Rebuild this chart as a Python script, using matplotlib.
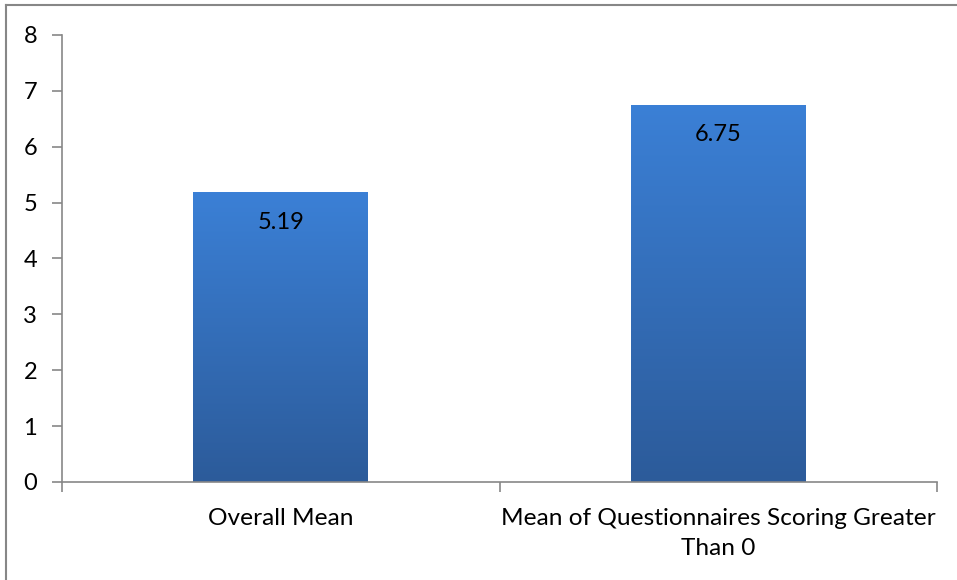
import matplotlib
matplotlib.use('Agg')
import matplotlib.pyplot as plt
import numpy as np
from matplotlib.colors import LinearSegmentedColormap

categories = ['Overall Mean', 'Mean of Questionnaires Scoring Greater\nThan 0']
values = [5.19, 6.75]
labels = ['5.19', '6.75']

plt.rcParams['font.family'] = ['Lato', 'DejaVu Sans']

fig = plt.figure(figsize=(9.57, 5.8), dpi=100)
ax = fig.add_axes([0.0648, 0.169, 0.9143, 0.7707])

# chart border (only top and left visible)
fig.add_artist(plt.Line2D([6/957, 1], [1 - 5/580, 1 - 5/580], color='#878787', lw=1.5))
fig.add_artist(plt.Line2D([6/957, 6/957], [0, 1 - 5/580], color='#878787', lw=1.5))

x = np.arange(len(values))
bars = ax.bar(x, values, width=0.40, color='none', zorder=2)

cmap = LinearSegmentedColormap.from_list('grad', ['#2C5B9A', '#3B80D6'])
grad = np.linspace(0, 1, 256).reshape(-1, 1)
for b, v, lab in zip(bars, values, labels):
    x0 = b.get_x()
    w = b.get_width()
    im = ax.imshow(grad, extent=[x0, x0 + w, 0, v], origin='lower', cmap=cmap,
                   aspect='auto', zorder=2)
    im.set_clip_path(b)
    ax.text(x0 + w / 2, v - 0.54, lab, ha='center', va='center', fontsize=17,
            color='black', zorder=3)

ax.set_xlim(-0.5, 1.5)
ax.set_ylim(0, 8)
ax.set_yticks(range(0, 9))
ax.set_xticks(x)
ax.set_xticklabels(categories, fontsize=17.6, linespacing=1.5)
ax.set_xticks([-0.5, 0.5, 1.5], minor=True)
ax.tick_params(axis='x', which='major', length=0, pad=19)
ax.tick_params(axis='x', which='minor', length=7, color='#878787', width=1.2)
ax.tick_params(axis='y', labelsize=17, length=7, color='#878787', width=1.2, pad=11)

for s in ['top', 'right']:
    ax.spines[s].set_visible(False)
for s in ['left', 'bottom']:
    ax.spines[s].set_color('#878787')
    ax.spines[s].set_linewidth(1.2)

fig.savefig('out.png', dpi=100)
